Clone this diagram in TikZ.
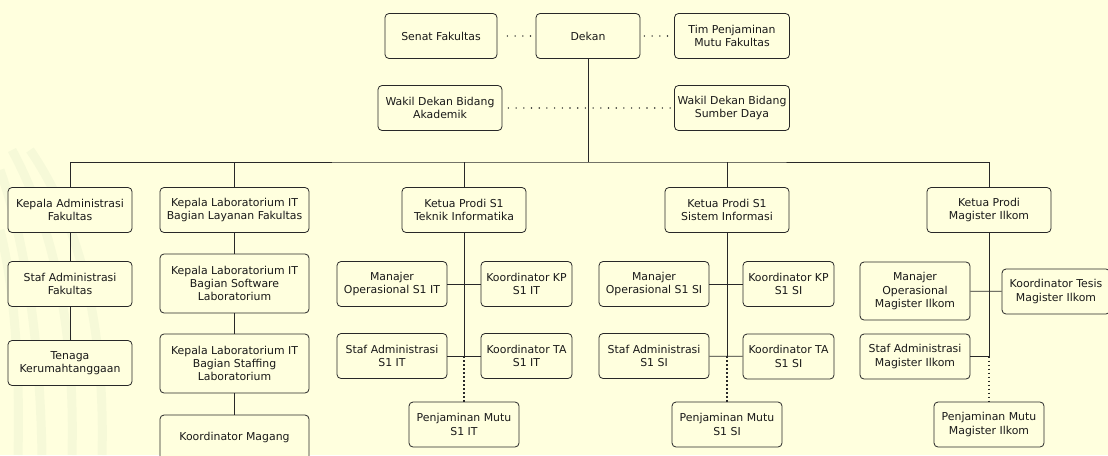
\documentclass[tikz,border=0pt]{standalone}
\usepackage{fontspec}
\setmainfont{DejaVu Sans}

\definecolor{paper}{RGB}{255,255,222}
\definecolor{edge}{RGB}{40,40,40}
\definecolor{leaf}{RGB}{160,195,160}

\tikzset{
  unit/.style={draw=edge, line width=0.8pt, rounded corners=4pt, fill=paper,
    align=center, minimum height=45pt, inner sep=2pt, text=black!90,
    font=\fontsize{10.9}{13.3}\selectfont},
  link/.style={draw=edge, line width=0.8pt},
  dots/.style={draw=edge, line width=1.6pt, line cap=round, dash pattern=on 0pt off 7.7pt},
  qa/.style={draw=edge, line width=1.8pt, dash pattern=on 1.8pt off 2.2pt},
}

\begin{document}
\begin{tikzpicture}[x=1pt, y=-1pt]
\useasboundingbox (0,0) rectangle (1108,455);
\fill[paper] (0,0) rectangle (1108,455);
\clip (0,0) rectangle (1108,455);

% faint watermark on the left
\begin{scope}[leaf, line width=9pt, opacity=0.09]
\draw (0,170) .. controls (25,240) and (40,340) .. (42,455);
\draw (12,150) .. controls (55,230) and (75,330) .. (72,455);
\draw (30,150) .. controls (85,230) and (105,340) .. (102,455);
\draw (0,230) .. controls (15,290) and (20,370) .. (18,455);
\end{scope}

% top
\node[unit, minimum width=104pt] (dekan) at (588,36) {Dekan};
\node[unit, minimum width=112pt, left of=dekan, node distance=147pt] (senat) {Senat Fakultas};
\node[unit, minimum width=115pt, right of=dekan, node distance=144pt] (tim) {Tim Penjaminan\\Mutu Fakultas};
\node[unit, minimum width=124pt, below of=senat, node distance=72pt, xshift=-1pt] (wdak) {Wakil Dekan Bidang\\Akademik};
\node[unit, minimum width=115pt, below of=tim, node distance=72pt] (wdsd) {Wakil Dekan Bidang\\Sumber Daya};
\coordinate (bus) at (588,162);

% second row
\node[unit, minimum width=124pt] (kaf) at (70,210) {Kepala Administrasi\\Fakultas};
\node[unit, minimum width=149pt] (klab) at (234.5,210) {Kepala Laboratorium IT\\Bagian Layanan Fakultas};
\node[unit, minimum width=124pt] (prodi-ti) at (464,210) {Ketua Prodi S1\\Teknik Informatika};
\node[unit, minimum width=124pt] (prodi-si) at (727,210) {Ketua Prodi S1\\Sistem Informasi};
\node[unit, minimum width=124pt] (prodi-mi) at (989,210) {Ketua Prodi\\Magister Ilkom};

% administrasi & laboratorium
\node[unit, minimum width=124pt, below of=kaf, node distance=74pt] (saf) {Staf Administrasi\\Fakultas};
\node[unit, minimum width=124pt, below of=saf, node distance=79pt] (rt) {Tenaga\\Kerumahtanggaan};
\node[unit, minimum width=149pt, minimum height=59pt, below of=klab, node distance=73.5pt] (lsw) {Kepala Laboratorium IT\\Bagian Software\\Laboratorium};
\node[unit, minimum width=149pt, minimum height=59pt, below of=lsw, node distance=80pt] (lst) {Kepala Laboratorium IT\\Bagian Staffing\\Laboratorium};
\node[unit, minimum width=149pt, below of=lst, node distance=74pt] (magang) {Koordinator Magang};

% prodi S1 TI
\node[unit, minimum width=110pt] (man-ti) at (392,284) {Manajer\\Operasional S1 IT};
\node[unit, minimum width=91pt] (kp-ti) at (526.5,284) {Koordinator KP\\S1 IT};
\node[unit, minimum width=110pt] (staf-ti) at (392,356) {Staf Administrasi\\S1 IT};
\node[unit, minimum width=91pt] (ta-ti) at (526.5,356) {Koordinator TA\\S1 IT};
\node[unit, minimum width=110pt, below of=prodi-ti, node distance=214.5pt] (pm-ti) {Penjaminan Mutu\\S1 IT};

% prodi S1 SI
\node[unit, minimum width=110pt] (man-si) at (654,284) {Manajer\\Operasional S1 SI};
\node[unit, minimum width=91pt] (kp-si) at (788.5,284) {Koordinator KP\\S1 SI};
\node[unit, minimum width=110pt] (staf-si) at (654,356) {Staf Administrasi\\S1 SI};
\node[unit, minimum width=91pt] (ta-si) at (788.5,356.5) {Koordinator TA\\S1 SI};
\node[unit, minimum width=110pt, below of=prodi-si, node distance=214.5pt] (pm-si) {Penjaminan Mutu\\S1 SI};

% prodi magister
\node[unit, minimum width=110pt, minimum height=58pt] (man-mi) at (915,291) {Manajer\\Operasional\\Magister Ilkom};
\node[unit, minimum width=108pt] (tesis-mi) at (1056,291.5) {Koordinator Tesis\\Magister Ilkom};
\node[unit, minimum width=110pt] (staf-mi) at (915,356.5) {Staf Administrasi\\Magister Ilkom};
\node[unit, minimum width=110pt, below of=prodi-mi, node distance=214.5pt] (pm-mi) {Penjaminan Mutu\\Magister Ilkom};

% connectors
\draw[dots, shorten <=10pt, shorten >=4pt] (senat) -- (dekan);
\draw[dots, shorten <=4pt, shorten >=4pt] (dekan) -- (tim);
\draw[dots, shorten <=6pt, shorten >=4pt] (wdak) -- (wdsd);
\draw[link] (dekan) -- (bus);
\draw[link] (kaf.north) |- (bus) -| (prodi-mi.north);
\foreach \n in {klab,prodi-ti,prodi-si}
  \draw[link] (\n.north) -- (\n.north |- bus);
\draw[link] (kaf) -- (saf) -- (rt);
\draw[link] (klab) -- (lsw) -- (lst) -- (magang);
\foreach \p in {ti,si} {
  \draw[link] (man-\p) -- (kp-\p);
  \draw[link] (staf-\p) -- (ta-\p);
}
\draw[link] (man-mi) -- (tesis-mi);
\foreach \p in {ti,si,mi} {
  \coordinate (j-\p) at (prodi-\p.south |- staf-\p.east);
  \draw[link] (prodi-\p) -- (j-\p);
  \draw[qa] (j-\p) -- (pm-\p.north);
}
\draw[link] (staf-mi) -- (j-mi);
\end{tikzpicture}
\end{document}
